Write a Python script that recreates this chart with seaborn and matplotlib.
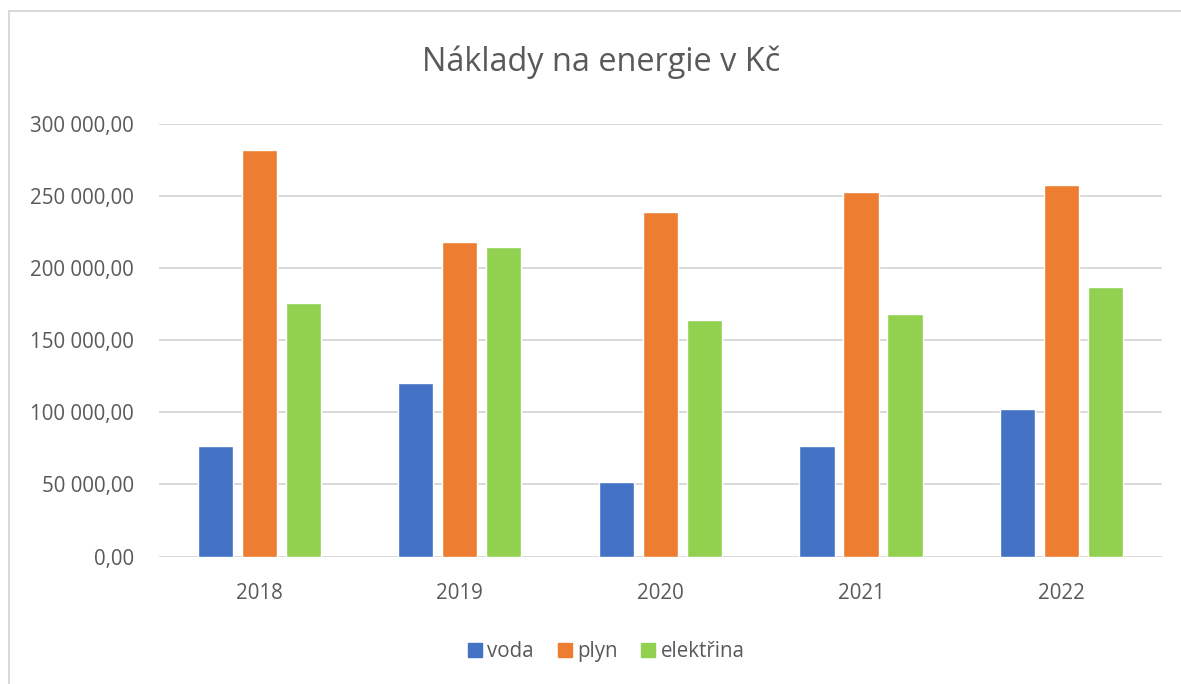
import numpy as np
import pandas as pd
import seaborn as sns
import matplotlib.pyplot as plt
from matplotlib.ticker import FuncFormatter
from matplotlib.lines import Line2D

# values (Kč)
years = ["2018", "2019", "2020", "2021", "2022"]
series = ["voda", "plyn", "elektřina"]
voda = [76800, 120000, 51400, 76800, 102000]
plyn = [282000, 218200, 238500, 252400, 257700]
elektrina = [175700, 214300, 163700, 167800, 187000]
colors = ["#4472C4", "#ED7D31", "#92D050"]

df = pd.DataFrame({
    "rok": years * 3,
    "typ": [s for s in series for _ in years],
    "naklady": voda + plyn + elektrina,
})

sns.set_style("white")
plt.rcParams["font.family"] = ["Open Sans", "DejaVu Sans"]
text_color = "#595959"
grid_color = "#D9D9D9"

fig = plt.figure(figsize=(11.81, 6.84), dpi=100)
ax = fig.add_axes([0.1346, 0.1864, 0.8493, 0.633])

sns.barplot(data=df, x="rok", y="naklady", hue="typ", palette=colors,
            width=0.658, gap=0.2, ax=ax, legend=False, saturation=1)

ax.set_ylim(0, 300000)
ax.set_xlim(-0.5, 4.5)
ax.set_yticks(np.arange(0, 300001, 50000))
ax.yaxis.set_major_formatter(FuncFormatter(lambda v, p: f"{v:,.2f}".replace(",", " ").replace(".", ",")))
ax.set_axisbelow(True)
ax.grid(axis="y", color=grid_color, linewidth=1.4)
for s in ax.spines.values():
    s.set_visible(False)
ax.tick_params(axis="both", length=0, labelsize=14.8, colors=text_color)
ax.tick_params(axis="y", pad=18)
ax.tick_params(axis="x", pad=19)
ax.set_xlabel("")
ax.set_ylabel("")

fig.text(0.509, 0.909, "Náklady na energie v Kč", ha="center", va="center",
         fontsize=23.4, color=text_color)

handles = [Line2D([], [], marker="s", linestyle="", markersize=10.5,
                  markerfacecolor=c, markeredgecolor=c) for c in colors]
fig.legend(handles, series, loc="center", bbox_to_anchor=(0.512, 0.047),
           ncol=3, frameon=False, fontsize=14.8, labelcolor=text_color,
           handletextpad=0.1, columnspacing=1.0, handlelength=1.0)

# chart frame (only top and left edges visible in the crop)
fig.add_artist(Line2D([9 / 1181, 9 / 1181], [0, 1 - 11 / 684], transform=fig.transFigure,
                      color=grid_color, linewidth=1.4))
fig.add_artist(Line2D([9 / 1181, 1], [1 - 11 / 684, 1 - 11 / 684], transform=fig.transFigure,
                      color=grid_color, linewidth=1.4))

fig.savefig("out.png", dpi=100, facecolor="white")
